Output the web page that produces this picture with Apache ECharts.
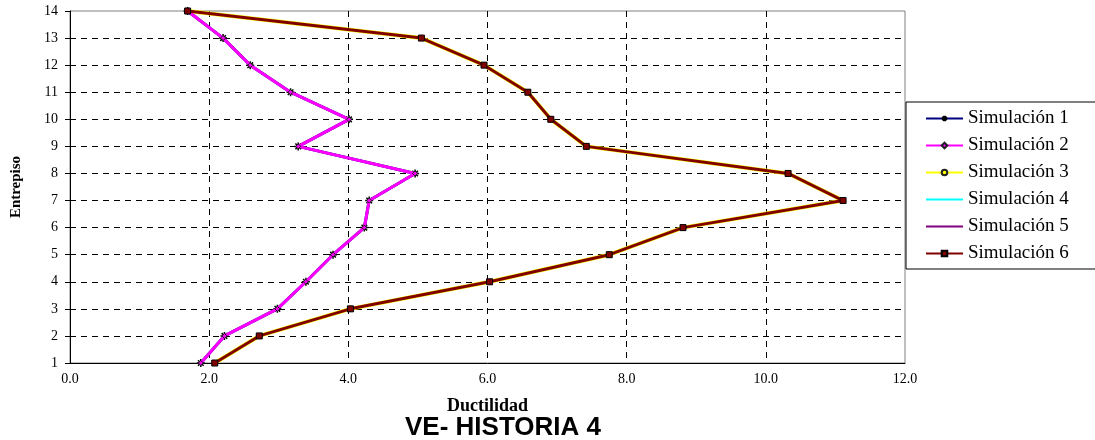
<!DOCTYPE html>
<html>
<head>
<meta charset="utf-8">
<script src="https://cdn.jsdelivr.net/npm/echarts@6/dist/echarts.min.js"></script>
<style>html,body{margin:0;padding:0;background:#fff}#c{width:1095px;height:440px}</style>
</head>
<body>
<div id="c"></div>
<script>
var floors = [1,2,3,4,5,6,7,8,9,10,11,12,13,14];
var sim1 = [1.88,2.22,2.98,3.39,3.78,4.23,4.30,4.96,3.28,4.01,3.17,2.59,2.20,1.69];
var sim2 = [1.88,2.22,2.98,3.39,3.78,4.23,4.30,4.96,3.28,4.01,3.17,2.59,2.20,1.69];
var sim3 = [2.08,2.72,4.03,6.03,7.75,8.81,11.11,10.32,7.42,6.91,6.58,5.95,5.05,1.69];
var sim4 = [2.08,2.72,4.03,6.03,7.75,8.81,11.11,10.32,7.42,6.91,6.58,5.95,5.05,1.69];
var sim5 = [2.08,2.72,4.03,6.03,7.75,8.81,11.11,10.32,7.42,6.91,6.58,5.95,5.05,1.69];
var sim6 = [2.08,2.72,4.03,6.03,7.75,8.81,11.11,10.32,7.42,6.91,6.58,5.95,5.05,1.69];
var seriesNames = ['Simulación 1','Simulación 2','Simulación 3','Simulación 4','Simulación 5','Simulación 6'];
var xTicks = [0,2,4,6,8,10,12];

function pairs(arr){ return arr.map(function(v,i){ return [v, floors[i]]; }); }
var asterisk = 'path://M0,5L10,5M5,0L5,10M1.5,1.5L8.5,8.5M8.5,1.5L1.5,8.5';
var serif = '"Liberation Serif","DejaVu Serif",serif';

var chart = echarts.init(document.getElementById('c'));
chart.setOption({
  animation: false,
  title: {
    text: 'VE- HISTORIA 4', left: 498, top: 410, textAlign: 'center',
    textStyle: {fontFamily: '"Liberation Sans",Arial,sans-serif', fontWeight: 'bold', fontSize: 26, color: '#000'}
  },
  grid: {left: 70, right: 190, top: 11, bottom: 77, outerBoundsMode: 'none', containLabel: false,
    show: true, borderColor: '#808080', borderWidth: 1},
  legend: {
    orient: 'vertical', left: 906, top: 102,
    data: [
      {name: seriesNames[0]},
      {name: seriesNames[1]},
      {name: seriesNames[2]},
      {name: seriesNames[3], itemStyle: {opacity: 0}},
      {name: seriesNames[4], itemStyle: {opacity: 0}},
      {name: seriesNames[5]}
    ],
    itemWidth: 37, itemHeight: 7, itemGap: 8,
    padding: [7, 40, 6, 19],
    borderColor: '#000', borderWidth: 1, backgroundColor: '#fff',
    textStyle: {fontFamily: serif, fontSize: 19, color: '#000'}
  },
  xAxis: {
    type: 'value', min: xTicks[0], max: xTicks[xTicks.length-1], interval: 2,
    name: 'Ductilidad', nameLocation: 'middle', nameGap: 34,
    nameTextStyle: {fontFamily: serif, fontWeight: 'bold', fontSize: 18, color: '#000'},
    axisLine: {show: true, lineStyle: {color: '#000', width: 1}},
    axisTick: {show: false},
    axisLabel: {fontFamily: serif, fontSize: 14, color: '#000', margin: 9, formatter: function(v){ return v.toFixed(1); }},
    splitLine: {show: true, showMinLine: false, showMaxLine: false, lineStyle: {color: '#000', type: [6,5], width: 1}}
  },
  yAxis: {
    type: 'value', min: 1, max: 14, interval: 1,
    name: 'Entrepiso', nameLocation: 'middle', nameGap: 46, nameRotate: 90,
    nameTextStyle: {fontFamily: serif, fontWeight: 'bold', fontSize: 15, color: '#000'},
    axisLine: {show: true, lineStyle: {color: '#000', width: 1}},
    axisTick: {show: true, inside: false, length: 5, lineStyle: {color: '#000'}},
    axisLabel: {fontFamily: serif, fontSize: 14, color: '#000', margin: 12},
    splitLine: {show: true, showMinLine: false, showMaxLine: false, lineStyle: {color: '#000', type: [6,5], width: 1}}
  },
  series: [
    {name: seriesNames[0], type: 'line', data: pairs(sim1), z: 2, symbol: asterisk, symbolSize: 8,
      lineStyle: {color: '#000080', width: 3}, itemStyle: {color: '#000080', borderColor: '#000', borderWidth: 1.5}},
    {name: seriesNames[1], type: 'line', data: pairs(sim2), z: 3, symbol: 'diamond', symbolSize: 5,
      lineStyle: {color: '#FF00FF', width: 3}, itemStyle: {color: '#FF00FF', borderColor: '#202020', borderWidth: 1}},
    {name: seriesNames[2], type: 'line', data: pairs(sim3), z: 2, symbol: 'circle', symbolSize: 5,
      lineStyle: {color: '#FFFF00', width: 4}, itemStyle: {color: '#FFFF00', borderColor: '#202020', borderWidth: 1}},
    {name: seriesNames[3], type: 'line', data: pairs(sim4), z: 2, symbol: 'none', showSymbol: false,
      lineStyle: {color: '#00FFFF', width: 1}, itemStyle: {color: '#00FFFF'}},
    {name: seriesNames[4], type: 'line', data: pairs(sim5), z: 2, symbol: 'none', showSymbol: false,
      lineStyle: {color: '#800080', width: 1}, itemStyle: {color: '#800080'}},
    {name: seriesNames[5], type: 'line', data: pairs(sim6), z: 4, symbol: 'rect', symbolSize: 6,
      lineStyle: {color: '#800000', width: 3}, itemStyle: {color: '#800000', borderColor: '#000', borderWidth: 1}}
  ]
});
</script>
</body>
</html>
